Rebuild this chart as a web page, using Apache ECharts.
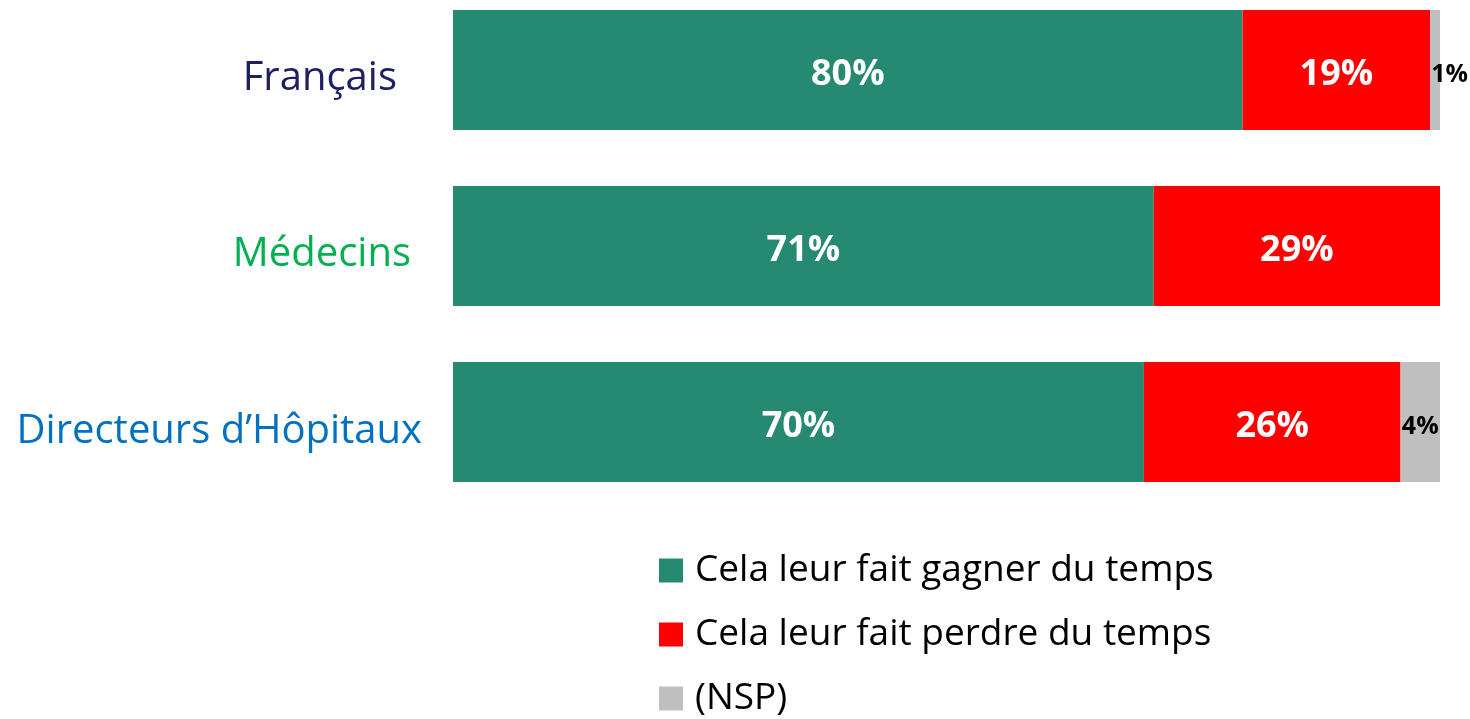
<!DOCTYPE html>
<html>
<head>
<meta charset="utf-8">
<script src="https://cdn.jsdelivr.net/npm/echarts@6/dist/echarts.min.js"></script>
<style>
  html, body { margin: 0; padding: 0; background: #fff; }
  #chart { width: 1470px; height: 719px; }
</style>
</head>
<body>
<div id="chart"></div>
<script>
  // données
  const categories = ["Français", "Médecins", "Directeurs d’Hôpitaux"];
  const gagner = [80, 71, 70];
  const perdre = [19, 29, 26];
  const nsp = [1, 0, 4];
  const seriesNames = ["Cela leur fait gagner du temps", "Cela leur fait perdre du temps", "(NSP)"];

  const FONT = "Open Sans";
  const labelStyles = ["f", "m", "d"];

  const chart = echarts.init(document.getElementById("chart"));

  function bigLabel() {
    return {
      show: true,
      position: "inside",
      offset: [0, 5],
      color: "#fff",
      fontFamily: FONT,
      fontWeight: "bold",
      fontSize: 36,
      formatter: (p) => p.value + "%",
    };
  }

  const option = {
    animation: false,
    grid: { left: 453, right: 30, top: -18, height: 528, outerBoundsMode: "none" },
    legend: {
      orient: "vertical",
      left: 659,
      top: 552,
      padding: 0,
      itemWidth: 24,
      itemHeight: 24,
      itemGap: 27,
      icon: "rect",
      textStyle: { fontFamily: FONT, fontSize: 37, color: "#000", padding: [0, 0, 0, 7] },
      data: seriesNames,
    },
    xAxis: { type: "value", min: 0, max: 100, show: false },
    yAxis: {
      type: "category",
      inverse: true,
      data: categories,
      axisLine: { show: false },
      axisTick: { show: false },
      axisLabel: {
        margin: 0,
        formatter: (v, i) => "{" + labelStyles[i] + "|" + v + "}",
        rich: {
          f: { color: "#1F2060", fontFamily: FONT, fontSize: 40, padding: [18, 56, 0, 0] },
          m: { color: "#00B050", fontFamily: FONT, fontSize: 40, padding: [18, 42, 0, 0] },
          d: { color: "#0070C0", fontFamily: FONT, fontSize: 40, padding: [20, 31, 0, 0] },
        },
      },
    },
    series: [
      {
        name: seriesNames[0], type: "bar", stack: "t", barWidth: 120,
        itemStyle: { color: "#268A73" },
        label: bigLabel(),
        data: gagner,
      },
      {
        name: seriesNames[1], type: "bar", stack: "t", barWidth: 120,
        itemStyle: { color: "#FF0000" },
        label: bigLabel(),
        data: perdre,
      },
      {
        name: seriesNames[2], type: "bar", stack: "t", barWidth: 120,
        itemStyle: { color: "#BFBFBF" },
        label: {
          show: true,
          position: "inside",
          offset: [0, 5],
          color: "#000",
          fontFamily: FONT,
          fontWeight: "bold",
          fontSize: 25,
          formatter: (p) => (p.value ? p.value + "%" : ""),
        },
        data: nsp.map((v) =>
          v < 2 ? { value: v, label: { position: "insideLeft", distance: 1 } } : v
        ),
      },
    ],
  };

  chart.setOption(option);
</script>
</body>
</html>
